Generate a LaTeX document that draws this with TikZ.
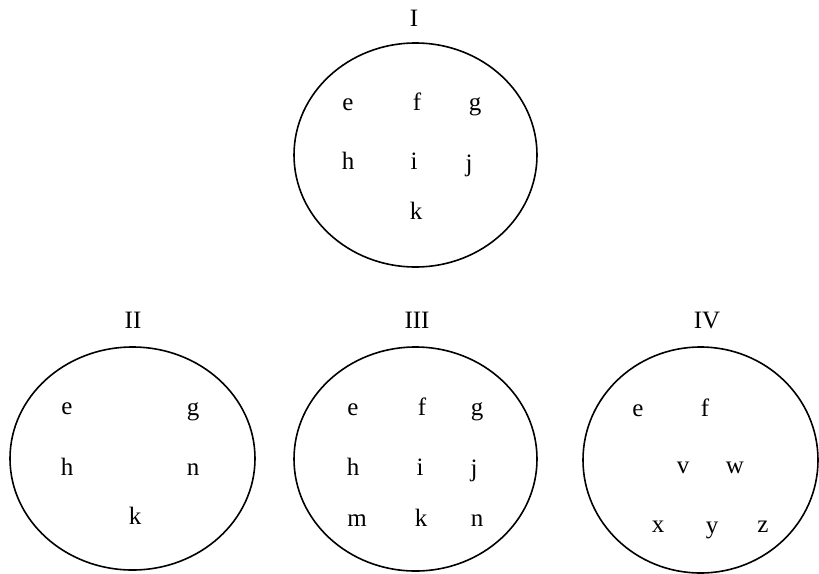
\documentclass[tikz,border=0pt]{standalone}
\usepackage{fontspec}
\setmainfont{Liberation Serif}
\begin{document}
\begin{tikzpicture}[x=1pt,y=-1pt,
  ring/.style={line width=1.6pt},
  member/.style={font=\fontsize{25}{28}\selectfont,inner sep=0pt,anchor=center},
  title/.style={font=\fontsize{25}{28}\selectfont,inner sep=0pt,anchor=center}]
\useasboundingbox (0,0) rectangle (819,573);

% set I
\draw[ring] (415.5,155) ellipse [x radius=121.5, y radius=112];
\node[title] (tI) at (414,18) {I};
\node[member] (Ie) at (348,105) {e};
\node[member] (If) at (417,102) {f};
\node[member] (Ig) at (475,107) {g};
\node[member] (Ih) at (348,161) {h};
\node[member] (Ii) at (414,161) {i};
\node[member] (Ij) at (469,166) {j};
\node[member] (Ik) at (416,211) {k};

% set II
\draw[ring] (132.5,458.5) ellipse [x radius=122.5, y radius=111.5];
\node[title] (tII) at (133,320) {II};
\node[member] (IIe) at (67,409) {e};
\node[member] (IIg) at (193,412) {g};
\node[member] (IIh) at (67,467) {h};
\node[member] (IIn) at (193,470) {n};
\node[member] (IIk) at (135,516) {k};

% set III
\draw[ring] (415.5,459) ellipse [x radius=121.5, y radius=112];
\node[title] (tIII) at (417,320) {III};
\node[member] (IIIe) at (353,410) {e};
\node[member] (IIIf) at (422,407) {f};
\node[member] (IIIg) at (477,412) {g};
\node[member] (IIIh) at (353,467) {h};
\node[member] (IIIi) at (420,467) {i};
\node[member] (IIIj) at (474,471) {j};
\node[member] (IIIm) at (357,521) {m};
\node[member] (IIIk) at (421,518) {k};
\node[member] (IIIn) at (477,521) {n};

% set IV
\draw[ring] (700.5,460) ellipse [x radius=117.5, y radius=113];
\node[title] (tIV) at (707,320) {IV};
\node[member] (IVe) at (638,411) {e};
\node[member] (IVf) at (705,408) {f};
\node[member] (IVv) at (683,468) {v};
\node[member] (IVw) at (735,468) {w};
\node[member] (IVx) at (658,527) {x};
\node[member] (IVy) at (712,530) {y};
\node[member] (IVz) at (763,527) {z};
\end{tikzpicture}
\end{document}
